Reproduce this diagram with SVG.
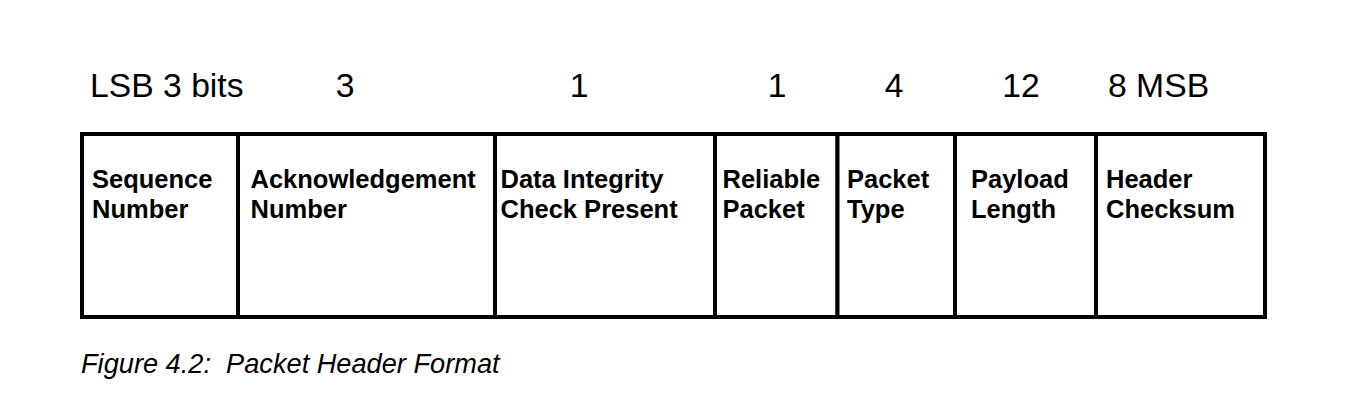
<svg xmlns="http://www.w3.org/2000/svg" width="1349" height="412" viewBox="0 0 1349 412">
<style>
.bits{font-family:"Liberation Sans",Arial,sans-serif;font-size:33.7px;fill:#000}
.lbl{font-family:"Liberation Sans",Arial,sans-serif;font-size:25.5px;font-weight:bold;fill:#000}
.cap{font-family:"Liberation Sans",Arial,sans-serif;font-size:27.2px;font-style:italic;fill:#000}
.cell{fill:#fff;stroke:#000;stroke-width:4}
</style>
<rect width="1349" height="412" fill="#fff"/>
<g id="bit-widths">
<text class="bits" x="90" y="97">LSB 3 bits</text>
<text class="bits" x="345" y="97" text-anchor="middle">3</text>
<text class="bits" x="579" y="97" text-anchor="middle">1</text>
<text class="bits" x="777" y="97" text-anchor="middle">1</text>
<text class="bits" x="894" y="97" text-anchor="middle">4</text>
<text class="bits" x="1021" y="97" text-anchor="middle">12</text>
<text class="bits" x="1108" y="97">8 MSB</text>
</g>
<g id="field-sequence">
<rect class="cell" x="82" y="134" width="156" height="183"/>
<text class="lbl" x="92" y="188">Sequence</text>
<text class="lbl" x="92" y="218">Number</text>
</g>
<g id="field-ack">
<rect class="cell" x="238" y="134" width="257" height="183"/>
<text class="lbl" x="250.5" y="188">Acknowledgement</text>
<text class="lbl" x="250.5" y="218">Number</text>
</g>
<g id="field-dic">
<rect class="cell" x="495" y="134" width="220" height="183"/>
<text class="lbl" x="500.5" y="188">Data Integrity</text>
<text class="lbl" x="500.5" y="218">Check Present</text>
</g>
<g id="field-reliable">
<rect class="cell" x="715" y="134" width="122.5" height="183"/>
<text class="lbl" x="722.5" y="188">Reliable</text>
<text class="lbl" x="722.5" y="218">Packet</text>
</g>
<g id="field-type">
<rect class="cell" x="837.5" y="134" width="117.5" height="183"/>
<text class="lbl" x="847" y="188">Packet</text>
<text class="lbl" x="847" y="218">Type</text>
</g>
<g id="field-length">
<rect class="cell" x="955" y="134" width="141" height="183"/>
<text class="lbl" x="971" y="188">Payload</text>
<text class="lbl" x="971" y="218">Length</text>
</g>
<g id="field-checksum">
<rect class="cell" x="1096" y="134" width="169" height="183"/>
<text class="lbl" x="1106" y="188">Header</text>
<text class="lbl" x="1106" y="218">Checksum</text>
</g>
<g id="connectors"/>
<g id="caption">
<text class="cap" x="81" y="373" xml:space="preserve">Figure 4.2:  Packet Header Format</text>
</g>
</svg>
